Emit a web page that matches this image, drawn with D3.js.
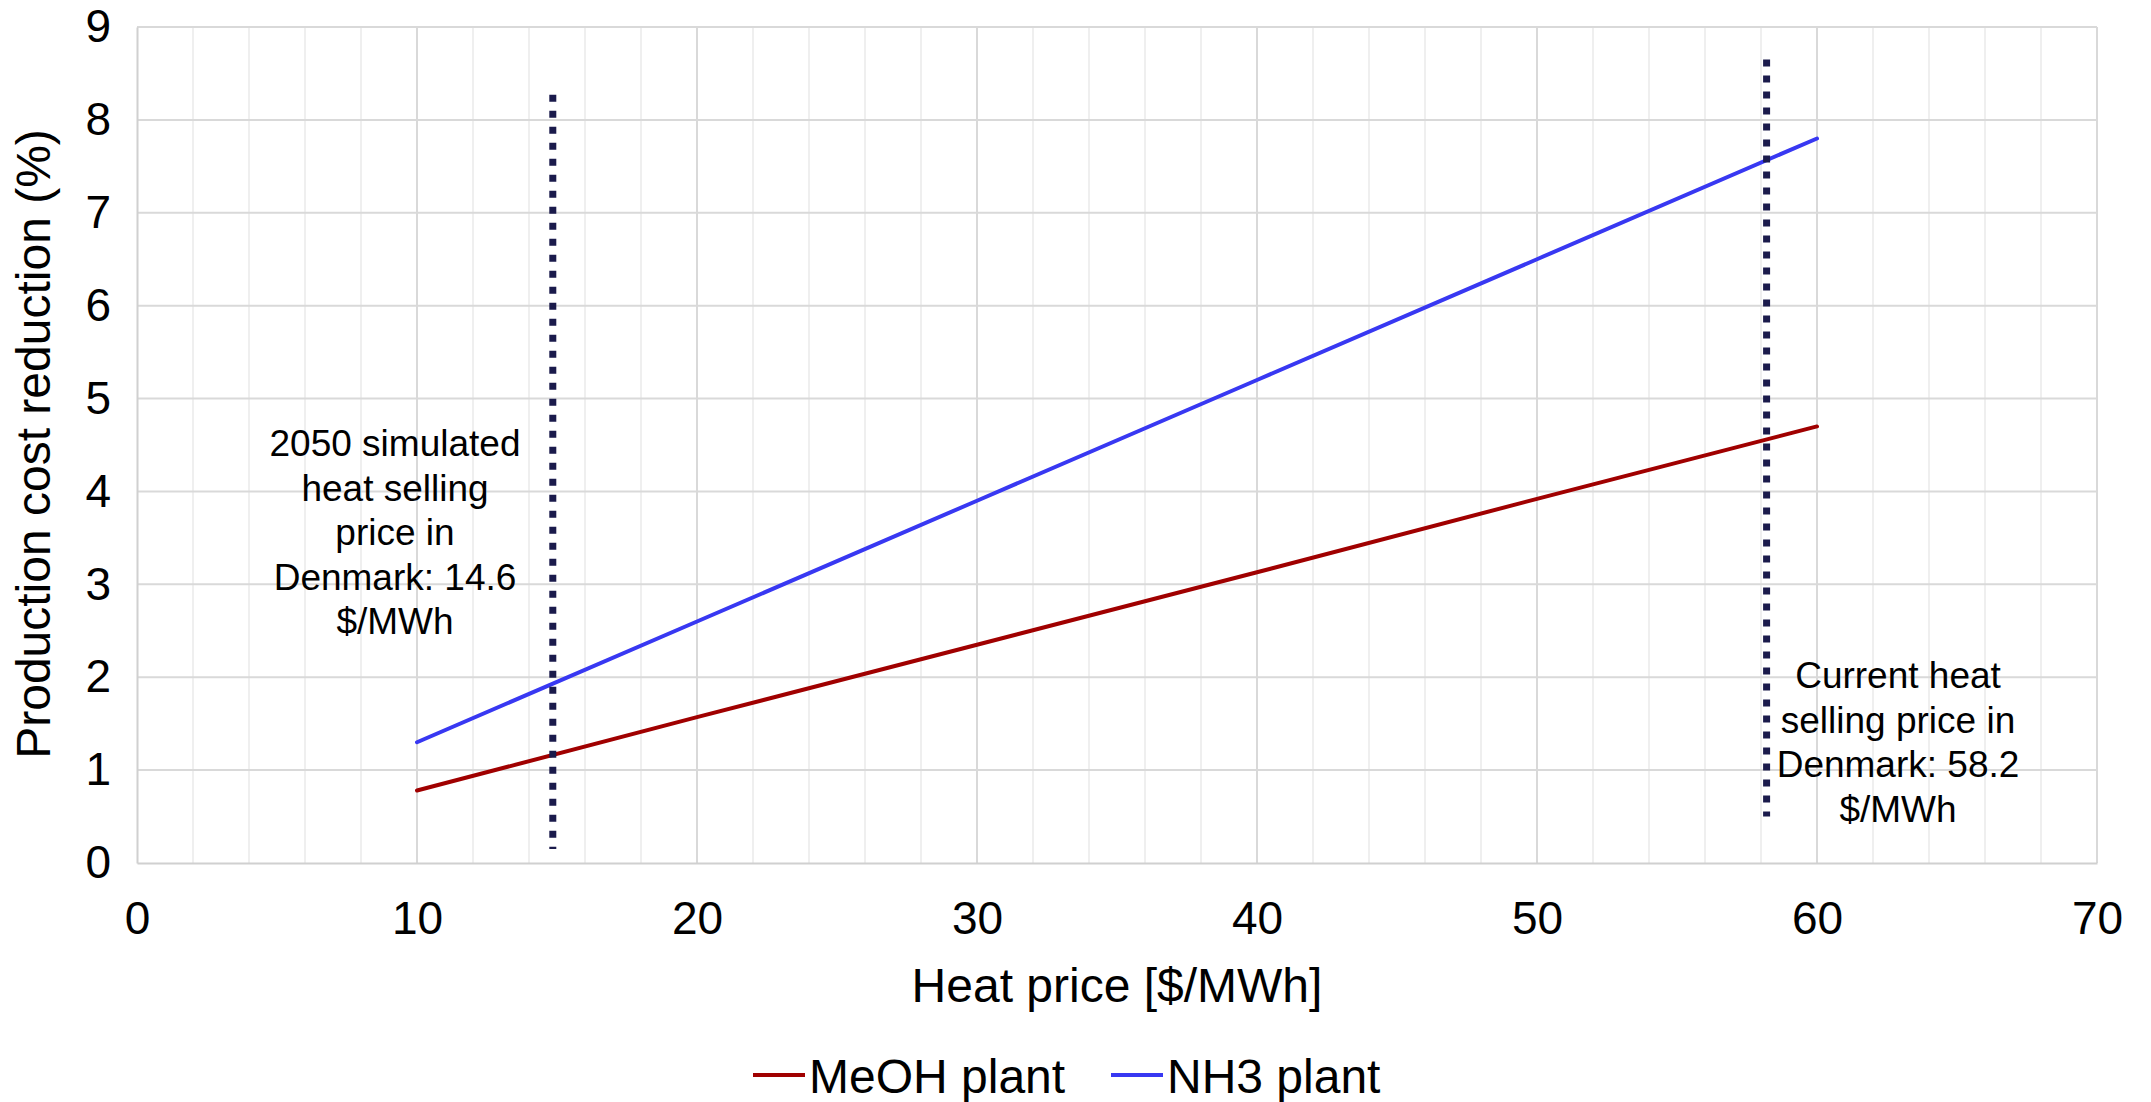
<!DOCTYPE html>
<html>
<head>
<meta charset="utf-8">
<script src="https://cdn.jsdelivr.net/npm/d3@7"></script>
<style>
  body { margin: 0; background: #fff; }
  text { font-family: "Liberation Sans", Arial, sans-serif; fill: #000; }
</style>
</head>
<body>
<div id="chart"></div>
<script>
// heat price on x, production cost reduction (%) on y
const heatPrice = [10, 20, 30, 40, 50, 60]
const meohValues = [0.78, 1.57, 2.35, 3.13, 3.92, 4.70]
const nh3Values = [1.30, 2.60, 3.90, 5.20, 6.50, 7.80]
const xTicks = [0, 10, 20, 30, 40, 50, 60, 70]
const yTicks = [0, 1, 2, 3, 4, 5, 6, 7, 8, 9]
const seriesNames = ["MeOH plant", "NH3 plant"]
const seriesColors = ["#a00000", "#3838f2"]

// dotted marker lines: x position, y from, y to
const markerX = [14.85, 58.2]
const markerFrom = [0.15, 0.5]
const markerTo = [8.27, 8.65]
const leftNote = ["2050 simulated", "heat selling", "price in", "Denmark: 14.6", "$/MWh"]
const rightNote = ["Current heat", "selling price in", "Denmark: 58.2", "$/MWh"]

const W = 2151, H = 1102
const margin = {left: 137, top: 27, right: 54, bottom: 239}

const svg = d3.select("#chart")
    .append("svg")
    .attr("width", W)
    .attr("height", H)

const x = d3.scaleLinear().domain([0, 70]).range([margin.left, W - margin.right])
const y = d3.scaleLinear().domain([0, 9]).range([H - margin.bottom, margin.top])

// minor vertical gridlines every 2
const minor = d3.range(2, 70, 2).filter(d => d % 10 !== 0)
svg.append("g").selectAll("line")
    .data(minor)
    .enter().append("line")
    .attr("x1", d => x(d)).attr("x2", d => x(d))
    .attr("y1", y(0)).attr("y2", y(9))
    .attr("stroke", "#efefef")
    .attr("stroke-width", 2)

svg.append("g").selectAll("line")
    .data(xTicks.slice(1))
    .enter().append("line")
    .attr("x1", d => x(d)).attr("x2", d => x(d))
    .attr("y1", y(0)).attr("y2", y(9))
    .attr("stroke", "#d9d9d9")
    .attr("stroke-width", 2)

svg.append("g").selectAll("line")
    .data(yTicks.slice(1))
    .enter().append("line")
    .attr("x1", x(0)).attr("x2", x(70))
    .attr("y1", d => y(d)).attr("y2", d => y(d))
    .attr("stroke", "#d9d9d9")
    .attr("stroke-width", 2)

const xAxis = d3.axisBottom(x).tickValues(xTicks).tickSize(0).tickPadding(38)
const gx = svg.append("g")
    .attr("transform", "translate(0," + y(0) + ")")
    .call(xAxis)
gx.select(".domain").attr("stroke", "#d0d0d0").attr("stroke-width", 2)
gx.selectAll("text").style("font-size", "46px").attr("fill", "#000")

const yAxis = d3.axisLeft(y).tickValues(yTicks).tickSize(0).tickPadding(26)
const gy = svg.append("g")
    .attr("transform", "translate(" + x(0) + ",0)")
    .call(yAxis)
gy.select(".domain").attr("stroke", "#d0d0d0").attr("stroke-width", 2)
gy.selectAll("text").style("font-size", "46px").attr("fill", "#000")

// axis titles
svg.append("text")
    .attr("transform", "translate(50," + 444 + ") rotate(-90)")
    .attr("text-anchor", "middle")
    .style("font-size", "48px")
    .text("Production cost reduction (%)")

svg.append("text")
    .attr("x", 1117).attr("y", 1002)
    .attr("text-anchor", "middle")
    .style("font-size", "48px")
    .text("Heat price [$/MWh]")

// series lines
const line = d3.line().x((d, i) => x(heatPrice[i])).y(d => y(d))
;[meohValues, nh3Values].forEach((vals, k) => {
    svg.append("path")
        .datum(vals)
        .attr("d", line)
        .attr("fill", "none")
        .attr("stroke", seriesColors[k])
        .attr("stroke-width", 4)
        .attr("stroke-linecap", "round")
})

// dotted markers
svg.append("g").selectAll("line")
    .data(markerX)
    .enter().append("line")
    .attr("x1", d => x(d)).attr("x2", d => x(d))
    .attr("y1", (d, i) => y(markerTo[i]))
    .attr("y2", (d, i) => y(markerFrom[i]))
    .attr("stroke", "#1a1a4b")
    .attr("stroke-width", 7)
    .attr("stroke-dasharray", "7,9")

// notes
function note(lines, cx, y0) {
    const t = svg.append("text")
        .attr("text-anchor", "middle")
        .style("font-size", "37px")
    t.selectAll("tspan")
        .data(lines)
        .enter().append("tspan")
        .attr("x", cx)
        .attr("y", (d, i) => y0 + i * 44.5)
        .text(d => d)
}
note(leftNote, 395, 456)
note(rightNote, 1898, 688)

// legend
const legendX = [753, 1111]
const lg = svg.append("g")
seriesNames.forEach((name, k) => {
    lg.append("line")
        .attr("x1", legendX[k]).attr("x2", legendX[k] + 52)
        .attr("y1", 1075).attr("y2", 1075)
        .attr("stroke", seriesColors[k])
        .attr("stroke-width", 4)
    lg.append("text")
        .attr("x", legendX[k] + 56).attr("y", 1093)
        .style("font-size", "48px")
        .text(name)
})
</script>
</body>
</html>
